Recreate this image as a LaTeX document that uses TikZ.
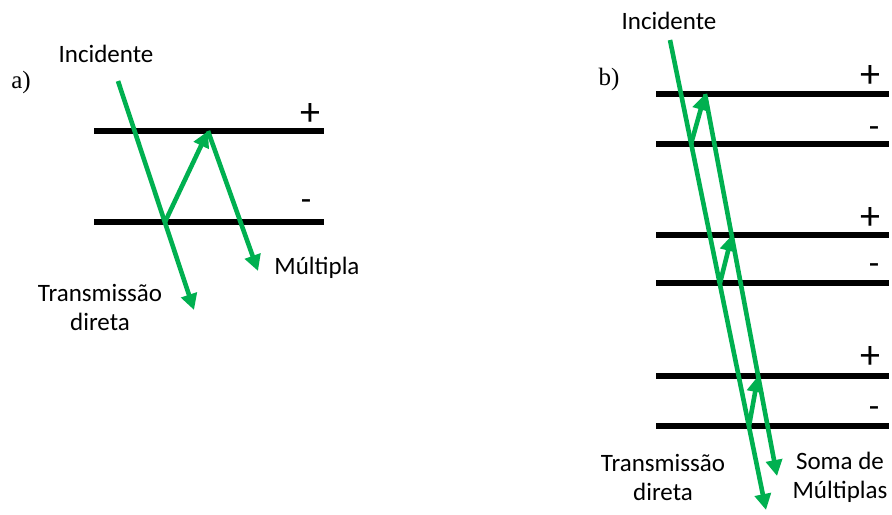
\documentclass[tikz,border=0pt]{standalone}
\usepackage{fontspec}
\setmainfont{Carlito}
\newfontfamily\panelfont{Liberation Serif}
\usepackage{tikz}
\usetikzlibrary{arrows.meta}
\definecolor{raygreen}{HTML}{00B050}

\begin{document}
\begin{tikzpicture}[
  x=0.5pt, y=-0.5pt,
  plate/.style={line width=2.6pt, draw=black},
  ray/.style={line width=2.3pt, draw=raygreen, -{Triangle[length=8pt,width=8pt]}},
  tag/.style={inner sep=0pt, font=\fontsize{12.5}{14.5}\selectfont, align=center},
  sign/.style={inner sep=0pt, font=\fontsize{20}{20}\selectfont},
  minus/.style={inner sep=0pt, font=\fontsize{17}{17}\selectfont},
  panel/.style={inner sep=0pt, font=\panelfont\fontsize{12.5}{14}\selectfont}
]
  \useasboundingbox (0,0) rectangle (892,514);

  % a) single plate pair
  \node[panel] (alabel) at (21,82) {a)};
  \node[tag] (aincid) at (106,54) {Incidente};
  \node[tag] (atrans) at (100,307) {Transmissão\\direta};
  \node[tag] (amult) at (317,268) {Múltipla};
  \node[sign] (aplus) at (310,115) {+};
  \node[minus] (aminus) at (306,205) {-};
  \draw[plate] (94,131) -- (324,131);
  \draw[plate] (94,222) -- (324,222);
  \coordinate (ain) at (118,81);
  \coordinate (aout) at (194,310);
  \coordinate (abot) at (165,222);
  \coordinate (atop) at (208,131);
  \coordinate (amul) at (258,271);
  \draw[ray] (ain) -- (aout);
  \draw[ray] (abot) -- (atop);
  \draw[ray] (atop) -- (amul);

  % b) three plate pairs
  \node[panel] (blabel) at (609,79) {b)};
  \node[tag] (bincid) at (669,21) {Incidente};
  \node[tag] (btrans) at (663,477) {Transmissão\\direta};
  \node[tag] (bsum) at (840,477) {Soma de\\Múltiplas};
  \node[sign] (bplusa) at (870,77) {+};
  \node[minus] (bminusa) at (874,132) {-};
  \node[sign] (bplusb) at (870,218) {+};
  \node[minus] (bminusb) at (874,269) {-};
  \node[sign] (bplusc) at (870,357) {+};
  \node[minus] (bminusc) at (874,412) {-};
  \draw[plate] (656,94) -- (889,94);
  \draw[plate] (656,144) -- (889,144);
  \draw[plate] (656,235) -- (889,235);
  \draw[plate] (656,283) -- (889,283);
  \draw[plate] (656,376) -- (889,376);
  \draw[plate] (656,426) -- (889,426);
  \coordinate (bin) at (670,40);
  \coordinate (bout) at (766,510);
  \coordinate (bstart) at (705,94);
  \coordinate (bend) at (777,476);
  \coordinate (blowa) at (691,144);
  \coordinate (blowb) at (720,283);
  \coordinate (blowc) at (749,426);
  \coordinate (bhigha) at (705,94);
  \coordinate (bhighb) at (732,235);
  \coordinate (bhighc) at (758,376);
  \draw[ray] (bin) -- (bout);
  \draw[ray] (bstart) -- (bend);
  \draw[ray] (blowa) -- (bhigha);
  \draw[ray] (blowb) -- (bhighb);
  \draw[ray] (blowc) -- (bhighc);
\end{tikzpicture}
\end{document}
